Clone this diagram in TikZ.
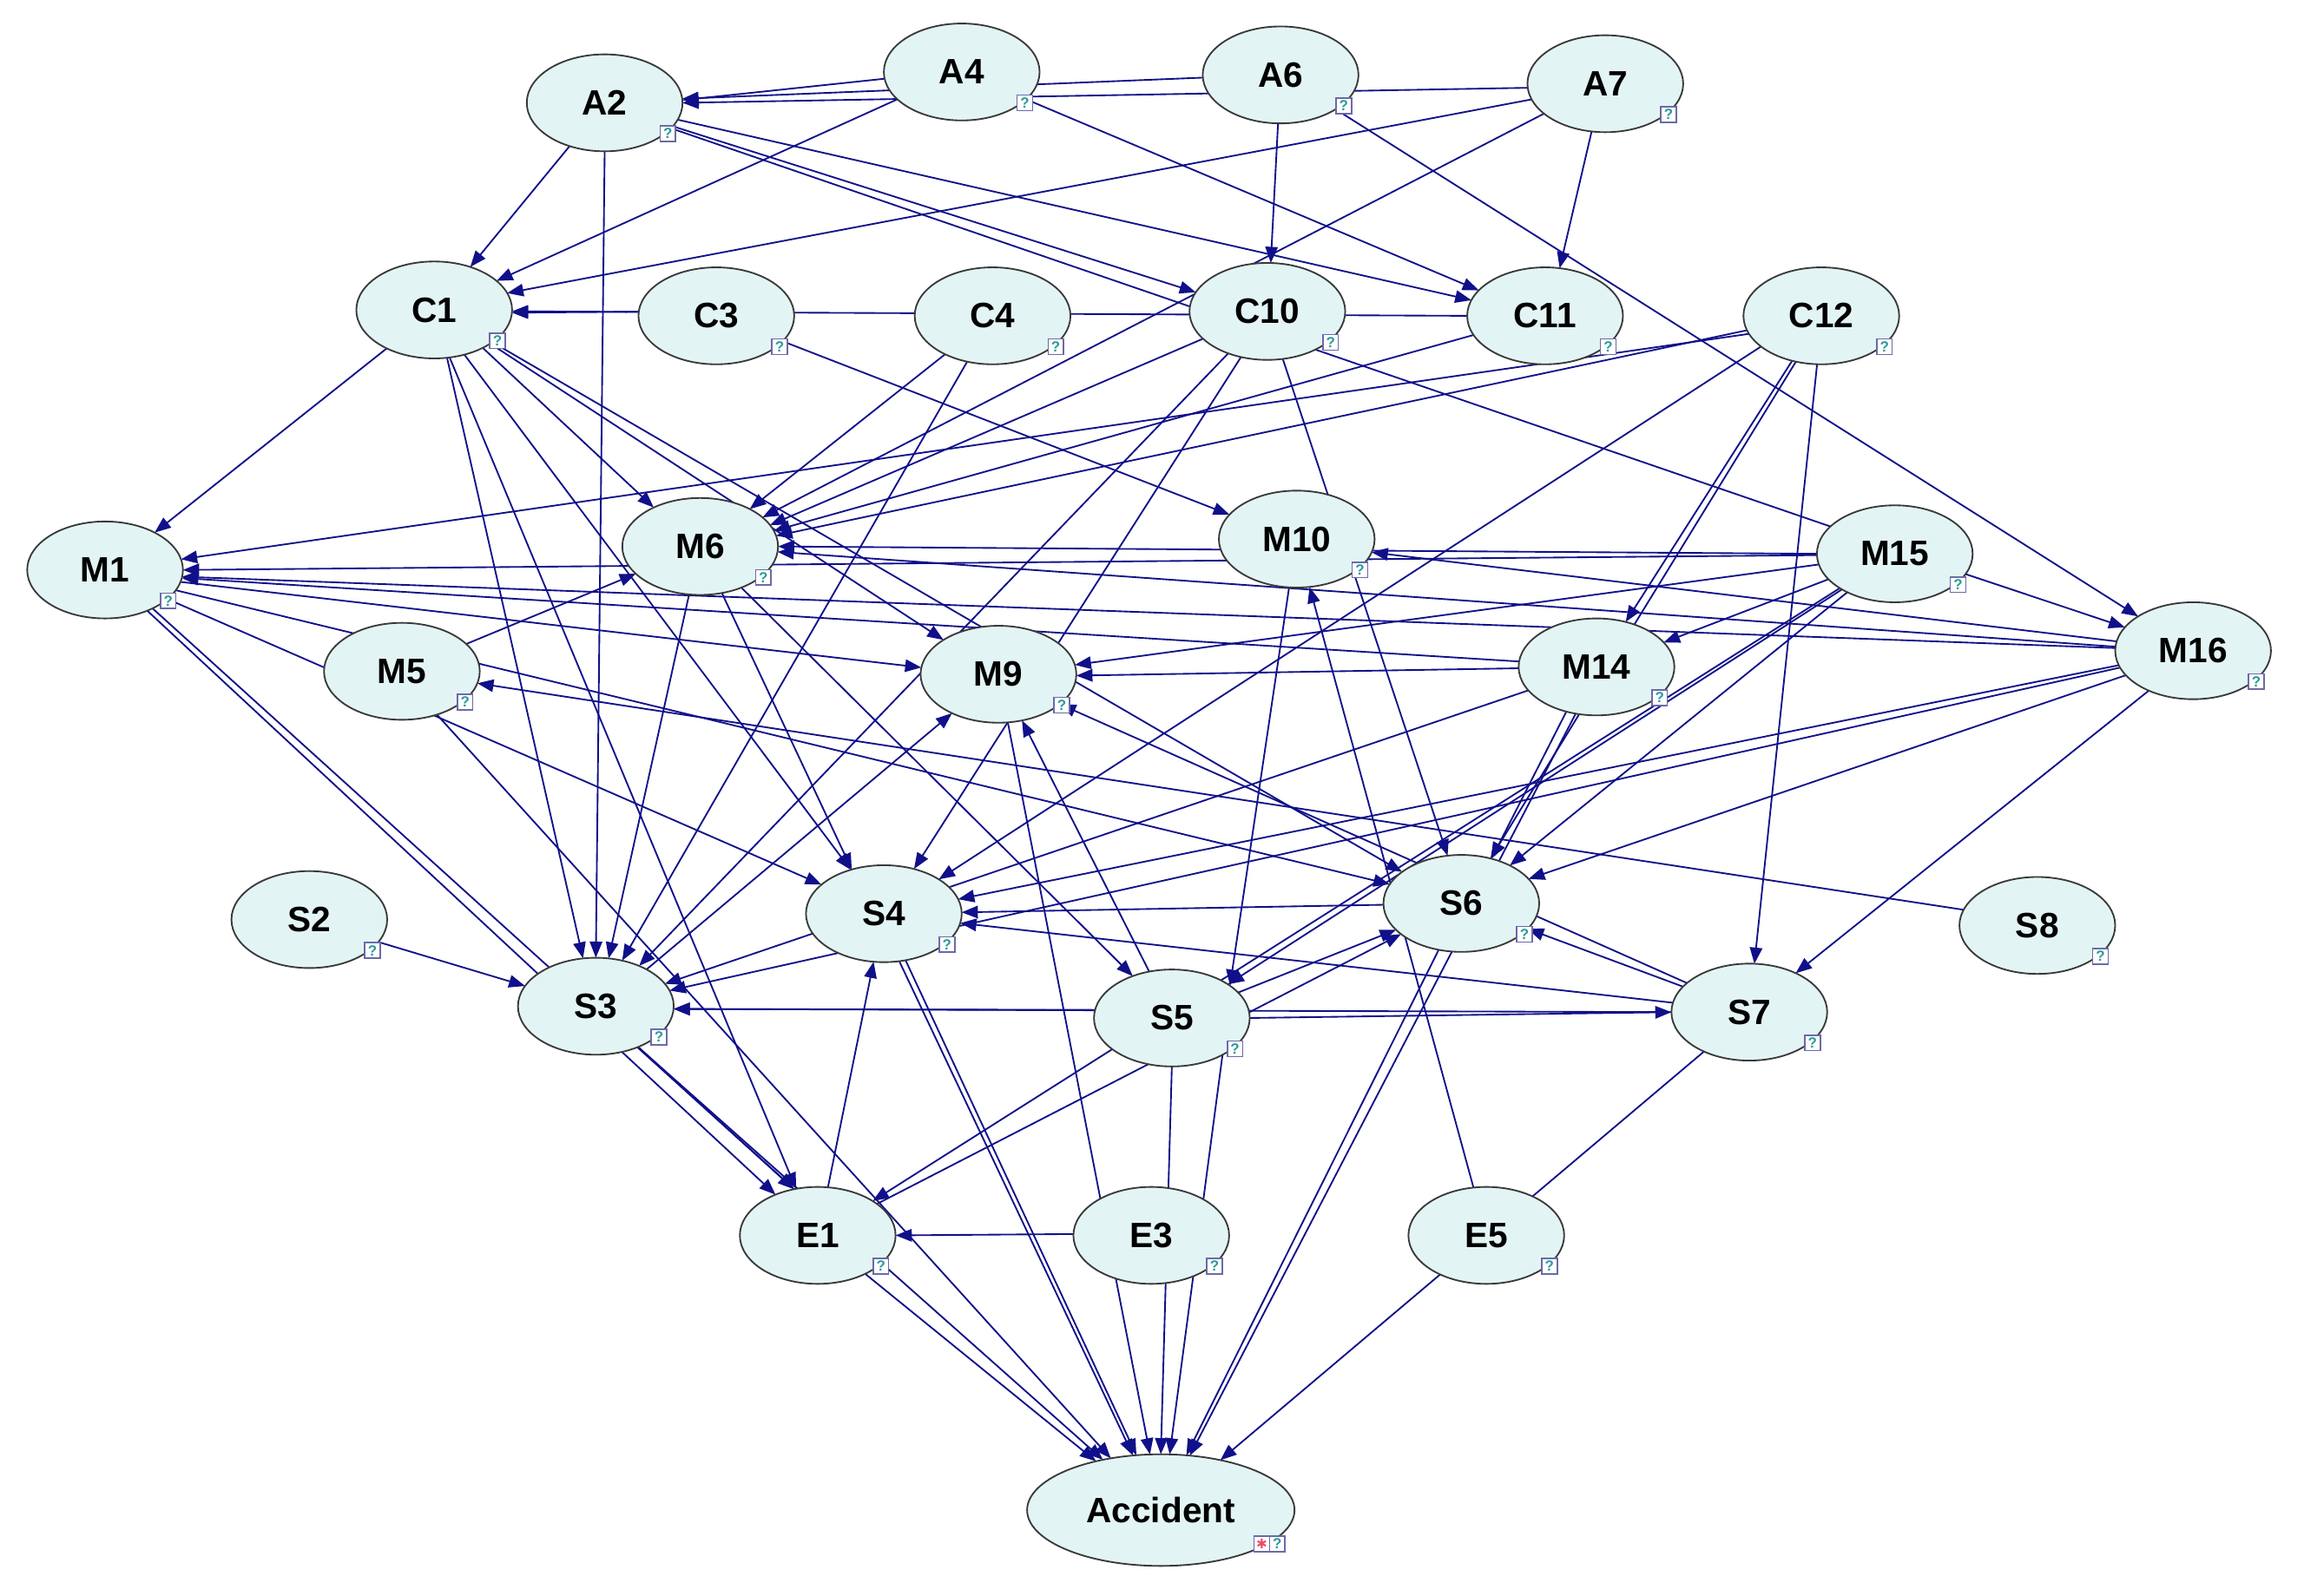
\documentclass[tikz,border=0pt]{standalone}
\usepackage{fontspec}
\setmainfont{Liberation Sans}
\newfontfamily\symfont{DejaVu Sans}
\usetikzlibrary{arrows.meta,backgrounds,shapes.geometric}
\definecolor{nodefill}{HTML}{E3F4F4}
\definecolor{nodeline}{HTML}{3A3A3A}
\definecolor{edgeblue}{HTML}{10108A}
\definecolor{boxline}{HTML}{6A6AA8}
\definecolor{qteal}{HTML}{2A9A9A}
\definecolor{starred}{HTML}{E8506A}
\tikzset{
  x=1pt,y=-1pt,
  bn/.style={ellipse,draw=nodeline,fill=nodefill,line width=1.1pt,minimum width=106pt,minimum height=66pt,inner sep=0pt,outer sep=0pt,font=\fontsize{24}{26}\selectfont\bfseries},
  bigbn/.style={bn,minimum width=182pt,minimum height=76pt},
  qbox/.style={rectangle,draw=boxline,fill=white,line width=.9pt,minimum width=10.5pt,minimum height=10.5pt,inner sep=0pt,outer sep=0pt,text=qteal,font=\fontsize{10}{10}\selectfont\bfseries},
  sbox/.style={qbox,text=starred,font=\symfont\fontsize{9}{9}\selectfont\bfseries},
  link/.style={draw=edgeblue,line width=1.1pt},
  edge/.style={link,-{Triangle[length=11pt,width=8.5pt]}}
}
\begin{document}
\begin{tikzpicture}
\useasboundingbox (0,0) rectangle (1568,1086);
\foreach \n/\x/\y in {A2/411.5/70,A4/654.5/49,A6/871.5/51,A7/1092.5/57,
  C1/295.5/211,C3/487.5/215,C4/675.5/215,C10/862.5/212,C11/1051.5/215,C12/1239.5/215,
  M1/71.5/388,M6/476.5/372,M10/882.5/367,M15/1289.5/377,M5/273.5/457,M9/679.5/459,M14/1086.5/454,M16/1492.5/443,
  S2/210.5/626,S4/601.5/622,S6/994.5/615,S8/1386.5/630,S3/405.5/685,S5/797.5/693,S7/1190.5/689,
  E1/556.5/841,E3/783.5/841,E5/1011.5/841}{
  \node[bn] (\n) at (\x,\y) {\n};
  \node[qbox] (q\n) at ([shift={(43,21)}]\n.center) {?};
}
\node[bigbn] (AC) at (790,1028) {Accident};
\node[sbox] (sAC) at (858.7,1051) {✱};
\node[qbox] (qAC) at (869.2,1051) {?};
\begin{scope}[on background layer]
\fill[white] (0,0) rectangle (1568,1086);
\draw[edge] (A4.185) -- (A2.2);
\draw[edge] (A6.182) -- (A2.3);
\draw[edge] (A7.183) -- (A2.0.5);
\draw[edge] (A2.231) -- (C1.50);
\draw[edge] (A4.203) -- (C1.25);
\draw[edge] (A7.192) -- (C1.13);
\draw[edge] (C3.177) -- (C1.358);
\draw[edge] (C11.180.5) -- (C1.359.5);
\draw[edge] (C3.339) -- (M10.160);
\draw[edge] (C4.219.5) -- (M6.37.6);
\draw[edge] (C4.241) -- (S3.60);
\draw[edge] (A2.270) -- (S3.90);
\draw[edge] (A2.341) -- (C10.165);
\draw[link] (A2.339) -- (M15.157);
\draw[edge] (A2.347) -- (C11.168.6);
\draw[edge] (A4.337.6) -- (C11.159);
\draw[edge] (A6.267) -- (C10.86);
\draw[edge] (A6.328.5) -- (M16.148.4);
\draw[edge] (A7.254.7) -- (C11.73);
\draw[edge] (A7.206.6) -- (M6.25.5);
\draw[edge] (C10.203.7) -- (M6.17);
\draw[edge] (C11.195.8) -- (M6.12.2);
\draw[edge] (C12.191.5) -- (M6.8.7);
\draw[edge] (C12.194) -- (M1.8.6);
\draw[edge] (C12.207.6) -- (S4.32.3);
\draw[edge] (C12.237.5) -- (M14.57.7);
\draw[edge] (C12.241.4) -- (S6.57.2);
\draw[edge] (C12.265) -- (S7.84);
\draw[edge] (C1.219) -- (M1.37.4);
\draw[edge] (C1.322.4) -- (M6.140.4);
\draw[edge] (C1.285.7) -- (S3.105.3);
\draw[edge] (C1.288.4) -- (E1.115.9);
\draw[edge] (C1.304) -- (S4.127);
\draw[edge] (C1.329) -- (M9.148.1);
\draw[edge] (C1.331) -- (S6.152);
\draw[edge] (M1.351.4) -- (M9.175.7);
\draw[edge] (M1.344.6) -- (S6.165.2);
\draw[edge] (M1.335.4) -- (S4.155);
\draw[edge] (M1.316.4) -- (E1.136);
\draw[edge] (M1.321.3) -- (E1.117.3);
\draw[edge] (M14.176.3) -- (M1.354.2);
\draw[edge] (M16.178.9) -- (M1.355.7);
\draw[edge] (M15.181) -- (M1.0);
\draw[edge] (M15.180.8) -- (M6.0);
\draw[edge] (M16.177.8) -- (M6.356.7);
\draw[edge] (M16.173.4) -- (M10.350.2);
\draw[edge] (M15.188.7) -- (M9.7.4);
\draw[edge] (M14.181) -- (M9.359);
\draw[edge] (M15.201.4) -- (M14.20.1);
\draw[edge] (M15.214) -- (S5.31.5);
\draw[edge] (M15.212) -- (E1.32.4);
\draw[edge] (M15.219.6) -- (S6.38.7);
\draw[edge] (M15.344.4) -- (M16.161.3);
\draw[edge] (M10.261.4) -- (S5.29.7);
\draw[edge] (E5.105.3) -- (M10.285);
\draw[edge] (C10.288.4) -- (S6.106.9);
\draw[edge] (C10.227) -- (S3.43);
\draw[edge] (C10.240) -- (S4.56.4);
\draw[edge] (S3.36.9) -- (M9.220.6);
\draw[edge] (M6.257.7) -- (S3.75.2);
\draw[edge] (M6.295) -- (S4.126.6);
\draw[edge] (M6.315.3) -- (S5.133.9);
\draw[edge] (M5.23.8) -- (M6.203.1);
\draw[edge] (M5.309) -- (AC.134.7);
\draw[edge] (S8.168.9) -- (M5.351.1);
\draw[edge] (S2.342.6) -- (S3.164);
\draw[edge] (S3.316.9) -- (E1.117.3);
\draw[edge] (S3.316.9) -- (AC.139.3);
\draw[edge] (E1.321.8) -- (AC.143.1);
\draw[edge] (E3.179.5) -- (E1.0.5);
\draw[edge] (E1.78) -- (S4.258.3);
\draw[edge] (E1.28.7) -- (S6.207.6);
\draw[edge] (S5.21.7) -- (S6.202.8);
\draw[edge] (S5.174.5) -- (S3.358.5);
\draw[edge] (S7.180) -- (S3.358.5);
\draw[edge] (S5.0) -- (S7.180);
\draw[edge] (S5.116.4) -- (M9.297.7);
\draw[edge] (S5.270) -- (AC.90);
\draw[edge] (S5.324.7) -- (AC.81.6);
\draw[edge] (M9.281.3) -- (AC.101.8);
\draw[edge] (S4.288) -- (AC.117.8);
\draw[edge] (S4.295.9) -- (AC.114.1);
\draw[edge] (S6.244.3) -- (AC.65.9);
\draw[edge] (M14.246.4) -- (AC.62.2);
\draw[edge] (M14.236.7) -- (S6.56.7);
\draw[edge] (M14.199.2) -- (S3.18.4);
\draw[edge] (M16.191.9) -- (S4.11.4);
\draw[edge] (M16.193.1) -- (S3.12.6);
\draw[edge] (M16.200.2) -- (S6.20.6);
\draw[edge] (M16.222.2) -- (S7.40.2);
\draw[edge] (S6.181) -- (S4.1);
\draw[edge] (S7.173.5) -- (S4.353.5);
\draw[edge] (S7.159.7) -- (S6.339.8);
\draw[edge] (S7.155.1) -- (M9.334.7);
\draw[edge] (S7.221) -- (AC.40.1);
\end{scope}
\end{tikzpicture}
\end{document}
